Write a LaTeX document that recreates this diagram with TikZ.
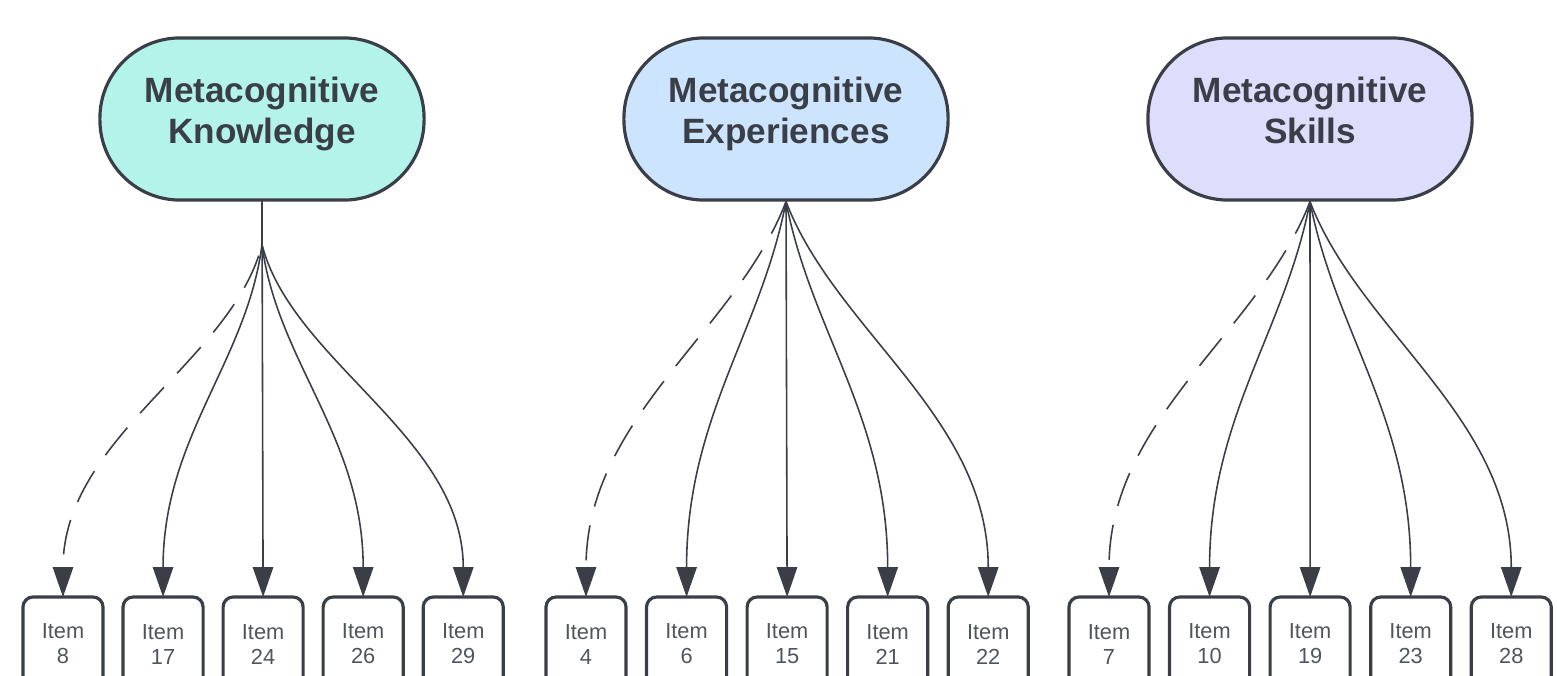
\documentclass[tikz,border=0pt]{standalone}
\usepackage{fontspec}
\usepackage{tikz}
\usetikzlibrary{positioning,arrows.meta}
\newfontfamily\lsans{Liberation Sans}
\definecolor{InkGray}{RGB}{58,63,71}
\definecolor{ItemGray}{RGB}{80,85,93}
\definecolor{KnowFill}{RGB}{180,243,234}
\definecolor{ExpFill}{RGB}{205,228,255}
\definecolor{SkillFill}{RGB}{221,221,252}

\begin{document}
\begin{tikzpicture}[
    x=0.01cm, y=-0.01cm,
    factor/.style={rectangle, draw=InkGray, line width=0.9pt, rounded corners=0.8cm,
                   minimum width=3.24cm, minimum height=1.62cm, align=center,
                   text=InkGray, font=\lsans\bfseries\fontsize{10}{11.7}\selectfont,
                   execute at end node={\rule[-4.9pt]{0pt}{0pt}}},
    itembox/.style={rectangle, draw=InkGray, line width=0.9pt, rounded corners=0.1cm,
                    minimum width=0.8cm, minimum height=0.94cm, align=center, anchor=north,
                    outer sep=0pt, text=ItemGray, font=\lsans\fontsize{6.2}{7.1}\selectfont},
    arrow/.style={-{Triangle[length=8.5pt, width=5.8pt]}, draw=InkGray, fill=none, line width=0.45pt},
    weak/.style={arrow, dash pattern=on 10pt off 5.5pt}
]
    \useasboundingbox (0,0) rectangle (1558,676);

    \node[factor, fill=KnowFill]  (know)  at (262,119)  {Metacognitive\\Knowledge};
    \node[factor, fill=ExpFill]   (exper) at (786,119)  {Metacognitive\\Experiences};
    \node[factor, fill=SkillFill] (skill) at (1310,119) {Metacognitive\\Skills};

    % items
    \node[itembox] (k8) at (63,597) {Item\\8};
    \node[itembox, right=0.2cm of k8]  (k17) {Item\\17};
    \node[itembox, right=0.2cm of k17] (k24) {Item\\24};
    \node[itembox, right=0.2cm of k24] (k26) {Item\\26};
    \node[itembox, right=0.2cm of k26] (k29) {Item\\29};

    \node[itembox] (e4) at (586,597) {Item\\4};
    \node[itembox, right=0.205cm of e4]  (e6)  {Item\\6};
    \node[itembox, right=0.205cm of e6]  (e15) {Item\\15};
    \node[itembox, right=0.205cm of e15] (e21) {Item\\21};
    \node[itembox, right=0.205cm of e21] (e22) {Item\\22};

    \node[itembox] (s7) at (1109,597) {Item\\7};
    \node[itembox, right=0.205cm of s7]  (s10) {Item\\10};
    \node[itembox, right=0.205cm of s10] (s19) {Item\\19};
    \node[itembox, right=0.205cm of s19] (s23) {Item\\23};
    \node[itembox, right=0.205cm of s23] (s28) {Item\\28};

    % knowledge
    \draw[weak]  (know.south) -- ++(0,43) .. controls +(-30,117) and +(0,-160) .. (k8.north);
    \draw[arrow] (know.south) -- ++(0,43) .. controls +(-15,117) and +(0,-160) .. (k17.north);
    \draw[arrow] (know.south) -- (k24.north);
    \draw[arrow] (know.south) -- ++(0,43) .. controls +(15,117) and +(0,-160) .. (k26.north);
    \draw[arrow] (know.south) -- ++(0,43) .. controls +(30,117) and +(0,-160) .. (k29.north);

    % experiences
    \draw[weak]  (exper.south) .. controls +(-50,130) and +(0,-180) .. (e4.north);
    \draw[arrow] (exper.south) .. controls +(-25,130) and +(0,-180) .. (e6.north);
    \draw[arrow] (exper.south) -- (e15.north);
    \draw[arrow] (exper.south) .. controls +(25,130) and +(0,-180) .. (e21.north);
    \draw[arrow] (exper.south) .. controls +(50,130) and +(0,-180) .. (e22.north);

    % skills
    \draw[weak]  (skill.south) .. controls +(-50,130) and +(0,-180) .. (s7.north);
    \draw[arrow] (skill.south) .. controls +(-25,130) and +(0,-180) .. (s10.north);
    \draw[arrow] (skill.south) -- (s19.north);
    \draw[arrow] (skill.south) .. controls +(25,130) and +(0,-180) .. (s23.north);
    \draw[arrow] (skill.south) .. controls +(50,130) and +(0,-180) .. (s28.north);
\end{tikzpicture}
\end{document}
